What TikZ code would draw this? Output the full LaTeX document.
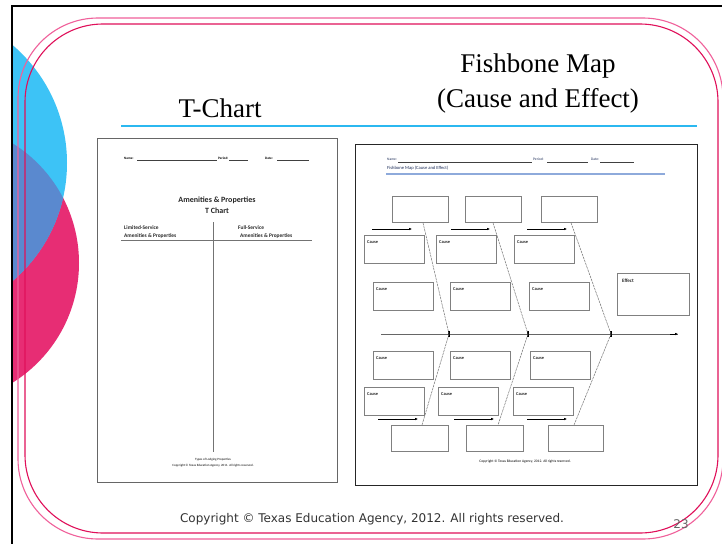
\documentclass[tikz,border=0pt]{standalone}
\usepackage{fontspec}
\setmainfont{Liberation Serif}
\newfontfamily\footfont{DejaVu Sans}
\newfontfamily\formfont{Carlito}
\usetikzlibrary{arrows.meta}
\definecolor{slidecyan}{HTML}{3DC3F6}
\definecolor{slidepink}{HTML}{E72D74}
\definecolor{slideblend}{HTML}{5A89CF}
\definecolor{rimouter}{HTML}{F0609A}
\definecolor{riminner}{HTML}{E0105A}
\definecolor{rulecyan}{HTML}{2BB8F0}
\definecolor{formblue}{HTML}{8EAADB}
\definecolor{formink}{HTML}{1F2F5A}
\tikzset{
  slidetitle/.style={font=\fontsize{27}{30}\selectfont, inner sep=0pt, anchor=base},
  footer/.style={font=\footfont\fontsize{12}{14}\selectfont, text=black!80, inner sep=0pt, anchor=base},
  pagenum/.style={font=\footfont\fontsize{12}{14}\selectfont, text=black!60, inner sep=0pt, anchor=base},
  sheet/.style={draw=#1, line width=1.3pt},
  formtxt/.style={font=\formfont\bfseries\fontsize{#1}{#1}\selectfont, inner sep=0pt},
  fieldline/.style={draw=black!75, line width=0.4pt},
  fishtxt/.style={font=\formfont\fontsize{#1}{#1}\selectfont, text=formink, inner sep=0pt},
  fbox/.style={draw=black!50, line width=0.8pt, inner sep=0pt, anchor=north west,
               minimum width=#1},
  toprow/.style={fbox=56pt, minimum height=26pt},
  causebox/.style={fbox=60pt, minimum height=28pt,
     label={[anchor=north west, xshift=3pt, yshift=-5pt, font=\formfont\bfseries\fontsize{4.4}{4.4}\selectfont, inner sep=0pt, text=black!85]north west:Cause}},
  bone/.style={draw=black!55, line width=0.5pt, dash pattern=on 2.5pt off 0.8pt},
  smallarrow/.style={draw=black, line width=0.5pt, -{Latex[length=3pt,width=2.6pt]}},
  jmark/.style={draw=black, line width=1.6pt},
}
\begin{document}
\begin{tikzpicture}[x=1pt,y=-1pt]
\useasboundingbox (0,0) rectangle (722,543);
\fill[white] (0,0) rectangle (722,543);

% decorative discs on the left edge
\begin{scope}
  \clip (12,0) rectangle (722,543);
  \fill[slidepink] (-62,263) circle (141);
  \fill[slidecyan] (-88,163) circle (155);
  \begin{scope}
    \clip (-62,263) circle (141);
    \fill[slideblend] (-88,163) circle (155);
  \end{scope}
\end{scope}

% slide frame and double rounded rim
\draw[line width=2pt] (12,560) -- (12,6) -- (740,6);
\draw[rimouter, line width=1.1pt, rounded corners=80pt] (18,18) rectangle (723,539);
\draw[riminner, line width=1.1pt, rounded corners=78pt] (25,24) rectangle (718,533);

% titles and rule
\node[slidetitle] (ttitle) at (220,117) {T-Chart};
\node[slidetitle] (ftitle1) at (538,72) {Fishbone Map};
\node[slidetitle] (ftitle2) at (538,107) {(Cause and Effect)};
\coordinate (ruleL) at (121,126);
\coordinate (ruleR) at (697,126);
\draw[rulecyan, line width=1.3pt] (ruleL) -- (ruleR);

% ---------- T-chart worksheet ----------
\node[sheet=black!60, inner sep=0pt, minimum width=240pt, minimum height=344pt, anchor=north west] (tsheet) at (97,138) {};
\node[formtxt=3.4, anchor=base west] (tname) at (124,159) {Name:};
\draw[fieldline] (137,160) -- (217,160);
\node[formtxt=3.4, anchor=base west] (tperiod) at (218,159) {Period:};
\draw[fieldline] (229,160) -- (248,160);
\node[formtxt=3.4, anchor=base west] (tdate) at (265,159) {Date:};
\draw[fieldline] (277,160) -- (309,160);
\node[formtxt=8, anchor=base, text=black!85] (thead1) at (217,202) {Amenities \& Properties};
\node[formtxt=8, anchor=base, text=black!85] (thead2) at (217,213) {T Chart};
\node[formtxt=5.4, anchor=base west, text=black!85] (tcolA1) at (124,229) {Limited-Service};
\node[formtxt=5.4, anchor=base west, text=black!85] (tcolA2) at (124,237.5) {Amenities \& Properties};
\node[formtxt=5.4, anchor=base west, text=black!85] (tcolB1) at (238,229) {Full-Service};
\node[formtxt=5.4, anchor=base west, text=black!85] (tcolB2) at (240,237.5) {Amenities \& Properties};
\coordinate (thL) at (121,240);
\coordinate (thR) at (312,240);
\coordinate (tvT) at (213,222);
\coordinate (tvB) at (213,452);
\draw[black!55, line width=0.8pt] (thL) -- (thR);
\draw[black!55, line width=1pt] (tvT) -- (tvB);
\node[formtxt=3.2, anchor=base, font=\formfont\fontsize{3.2}{3.2}\selectfont] (tfoot1) at (213,460.5) {Types of Lodging Properties};
\node[formtxt=3.2, anchor=base, font=\formfont\fontsize{3.2}{3.2}\selectfont] (tfoot2) at (213,466) {Copyright \textcopyright\ Texas Education Agency, 2011. All rights reserved.};

% ---------- Fishbone worksheet ----------
\node[sheet=black!85, inner sep=0pt, minimum width=342pt, minimum height=341pt, anchor=north west] (fsheet) at (355,144) {};
\node[fishtxt=3.6, anchor=base west] (fname) at (387,160) {Name:};
\draw[fieldline] (398,162) -- (532,162);
\node[fishtxt=3.6, anchor=base west] (fperiod) at (533,160) {Period:};
\draw[fieldline] (547,162) -- (588,162);
\node[fishtxt=3.6, anchor=base west] (fdate) at (591,160) {Date:};
\draw[fieldline] (600,162) -- (634,162);
\node[fishtxt=4.6, anchor=base west] (fhead) at (387,169.5) {Fishbone Map (Cause and Effect)};
\coordinate (fulL) at (386,174);
\coordinate (fulR) at (665,174);
\draw[formblue, line width=1.8pt] (fulL) -- (fulR);

% upper head boxes
\node[toprow] (tb1) at (392,196) {};
\node[toprow] (tb2) at (465,196) {};
\node[toprow] (tb3) at (541,196) {};
% upper arrows
\coordinate (ua1s) at (372,229); \coordinate (ua1e) at (412,229);
\coordinate (ua2s) at (451,229); \coordinate (ua2e) at (490,229);
\coordinate (ua3s) at (527,229); \coordinate (ua3e) at (567,229);
\draw[smallarrow] (ua1s) -- (ua1e);
\draw[smallarrow] (ua2s) -- (ua2e);
\draw[smallarrow] (ua3s) -- (ua3e);
% upper cause boxes
\node[causebox] (uc11) at (364,235) {};
\node[causebox] (uc12) at (436,235) {};
\node[causebox] (uc13) at (514,235) {};
\node[causebox] (uc21) at (373,282) {};
\node[causebox] (uc22) at (450,282) {};
\node[causebox] (uc23) at (529,282) {};
% effect box
\node[fbox=72pt, minimum height=42pt,
      label={[anchor=north west, xshift=5pt, yshift=-6pt, inner sep=0pt, font=\formfont\bfseries\fontsize{5}{5}\selectfont, text=black!85]north west:Effect}] (effect) at (617,273) {};

% spine
\coordinate (sp0) at (381,334);
\coordinate (sp1) at (678,334);
\draw[black!60, line width=1pt] (sp0) -- (sp1);
\draw[black, line width=0.5pt, -{Latex[length=3pt,width=2.6pt]}] (670,334) -- (sp1);
\coordinate (j1) at (449,334);
\coordinate (j2) at (528,334);
\coordinate (j3) at (611,334);
\foreach \j in {j1,j2,j3}{\draw[jmark] ([yshift=-3pt]\j) -- ([yshift=3pt]\j);}

% lower head boxes
\node[toprow, minimum width=57pt] (bb1) at (391,425) {};
\node[toprow, minimum width=57pt] (bb2) at (466,425) {};
\node[toprow, minimum width=55pt] (bb3) at (548,425) {};

% bones
\draw[bone] ([xshift=31pt]tb1.south west) -- (j1);
\draw[bone] ([xshift=28pt]tb2.south west) -- (j2);
\draw[bone] ([xshift=30pt]tb3.south west) -- (j3);
\draw[bone] (j1) -- ([xshift=31pt]bb1.north west);
\draw[bone] (j2) -- ([xshift=32pt]bb2.north west);
\draw[bone] (j3) -- ([xshift=26pt]bb3.north west);

% lower cause boxes
\node[causebox] (lc11) at (373,351) {};
\node[causebox] (lc12) at (450,351) {};
\node[causebox] (lc13) at (530,351) {};
\node[causebox] (lc21) at (364,387) {};
\node[causebox] (lc22) at (438,387) {};
\node[causebox] (lc23) at (513,387) {};
% lower arrows
\coordinate (la1s) at (378,419); \coordinate (la1e) at (418,419);
\coordinate (la2s) at (454,419); \coordinate (la2e) at (494,419);
\coordinate (la3s) at (527,419); \coordinate (la3e) at (567,419);
\draw[smallarrow] (la1s) -- (la1e);
\draw[smallarrow] (la2s) -- (la2e);
\draw[smallarrow] (la3s) -- (la3e);

\node[fishtxt=3.6, text=black, anchor=base] (ffoot) at (525,462.5) {Copyright \textcopyright\ Texas Education Agency, 2012. All rights reserved.};

% slide footer
\node[footer] (copy) at (372,522) {Copyright \textcopyright\ Texas Education Agency, 2012. All rights reserved.};
\node[pagenum] (pnum) at (681,528) {23};
\end{tikzpicture}
\end{document}
